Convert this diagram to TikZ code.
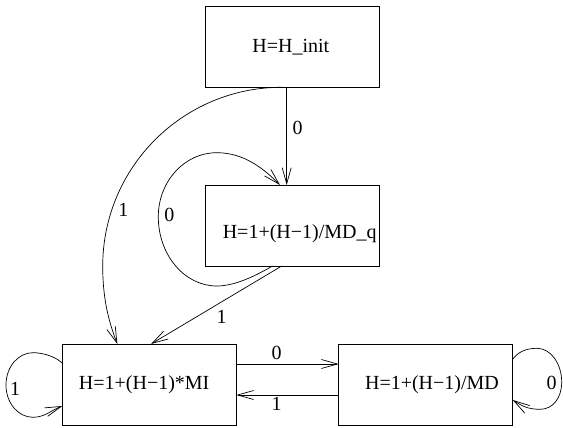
\documentclass[tikz,border=0pt]{standalone}
\usepackage{fontspec}
\setmainfont{Liberation Serif}
\usetikzlibrary{arrows.meta}
\begin{document}
\begin{tikzpicture}[x=1pt,y=1pt, font=\fontsize{20}{24}\selectfont,
  box/.style={draw, line width=0.8pt, minimum width=174pt, minimum height=81pt, inner sep=0pt, outer sep=0pt},
  arr/.style={line width=0.7pt, -{Straight Barb[length=16pt,width=9pt]}},
  lbl/.style={inner sep=0pt}]
\useasboundingbox (0,0) rectangle (563,428);
\node[box, label={[lbl,xshift=-1.7pt]center:H=H\_init}] (A) at (292.5,381.2) {};
\node[box, label={[lbl,xshift=7.2pt,yshift=-8pt]center:H=1+(H−1)/MD\_q}] (B) at (292.5,202.5) {};
\node[box, label={[lbl,xshift=-5.2pt]center:H=1+(H−1)*MI}] (C) at (149.35,43.5) {};
\node[box, label={[lbl,xshift=6.3pt]center:H=1+(H−1)/MD}] (D) at (425.7,43.5) {};
% A -> B
\draw[arr] ([xshift=-5.8pt]A.south) -- ([xshift=-5.8pt]B.north);
\node[lbl] (l1) at (297.5,299.8) {0};
% A -> C
\draw[arr] ([xshift=-10.8pt]A.south) arc[start angle=90, end angle=180, radius=179pt]
  .. controls (102.7,131.3) and (108,108) .. ([xshift=-32pt]C.north);
\node[lbl] (l2) at (123.3,218) {1};
% B loop
\draw[arr] ([xshift=-20pt]B.south) .. controls (255.2,152) and (235,142) .. (216.7,142)
  .. controls (184.5,142) and (158.3,173) .. (158.3,211.3)
  .. controls (158.3,246.6) and (184.5,275.3) .. (216.7,275.3)
  .. controls (245,275.3) and (265,258) .. ([xshift=-12.5pt]B.north);
\node[lbl] (l3) at (169.3,213) {0};
% B -> C
\draw[arr] ([xshift=-10.8pt]B.south) -- ([xshift=1.7pt]C.north);
\node[lbl] (l4) at (221.7,111.3) {1};
% C <-> D
\draw[arr] ([yshift=20.5pt]C.east) -- ([yshift=20.5pt]D.west);
\node[lbl] (l5) at (276.7,74.7) {0};
\draw[arr] ([yshift=-10.5pt]D.west) -- ([yshift=-10.5pt]C.east);
\node[lbl] (l6) at (276.7,24) {1};
% C loop
\draw[arr] ([yshift=21.2pt]C.west) .. controls (55,72) and (42,75.3) .. (33,75.3)
  .. controls (18,75.3) and (6,61) .. (6,43)
  .. controls (6,25) and (18,10.7) .. (33,10.7)
  .. controls (45,10.7) and (51.7,18) .. ([yshift=-21.5pt]C.west);
\node[lbl] (l7) at (15,38.7) {1};
% D loop
\draw[arr] ([yshift=25.2pt]D.east) .. controls (518,76) and (526,79.7) .. (537,79.7)
  .. controls (551,79.7) and (561.7,64) .. (561.7,46)
  .. controls (561.7,30) and (553,18.7) .. (540,18.7)
  .. controls (528,18.7) and (522,22) .. ([yshift=-15.5pt]D.east);
\node[lbl] (l8) at (551.7,44.7) {0};
\end{tikzpicture}
\end{document}
